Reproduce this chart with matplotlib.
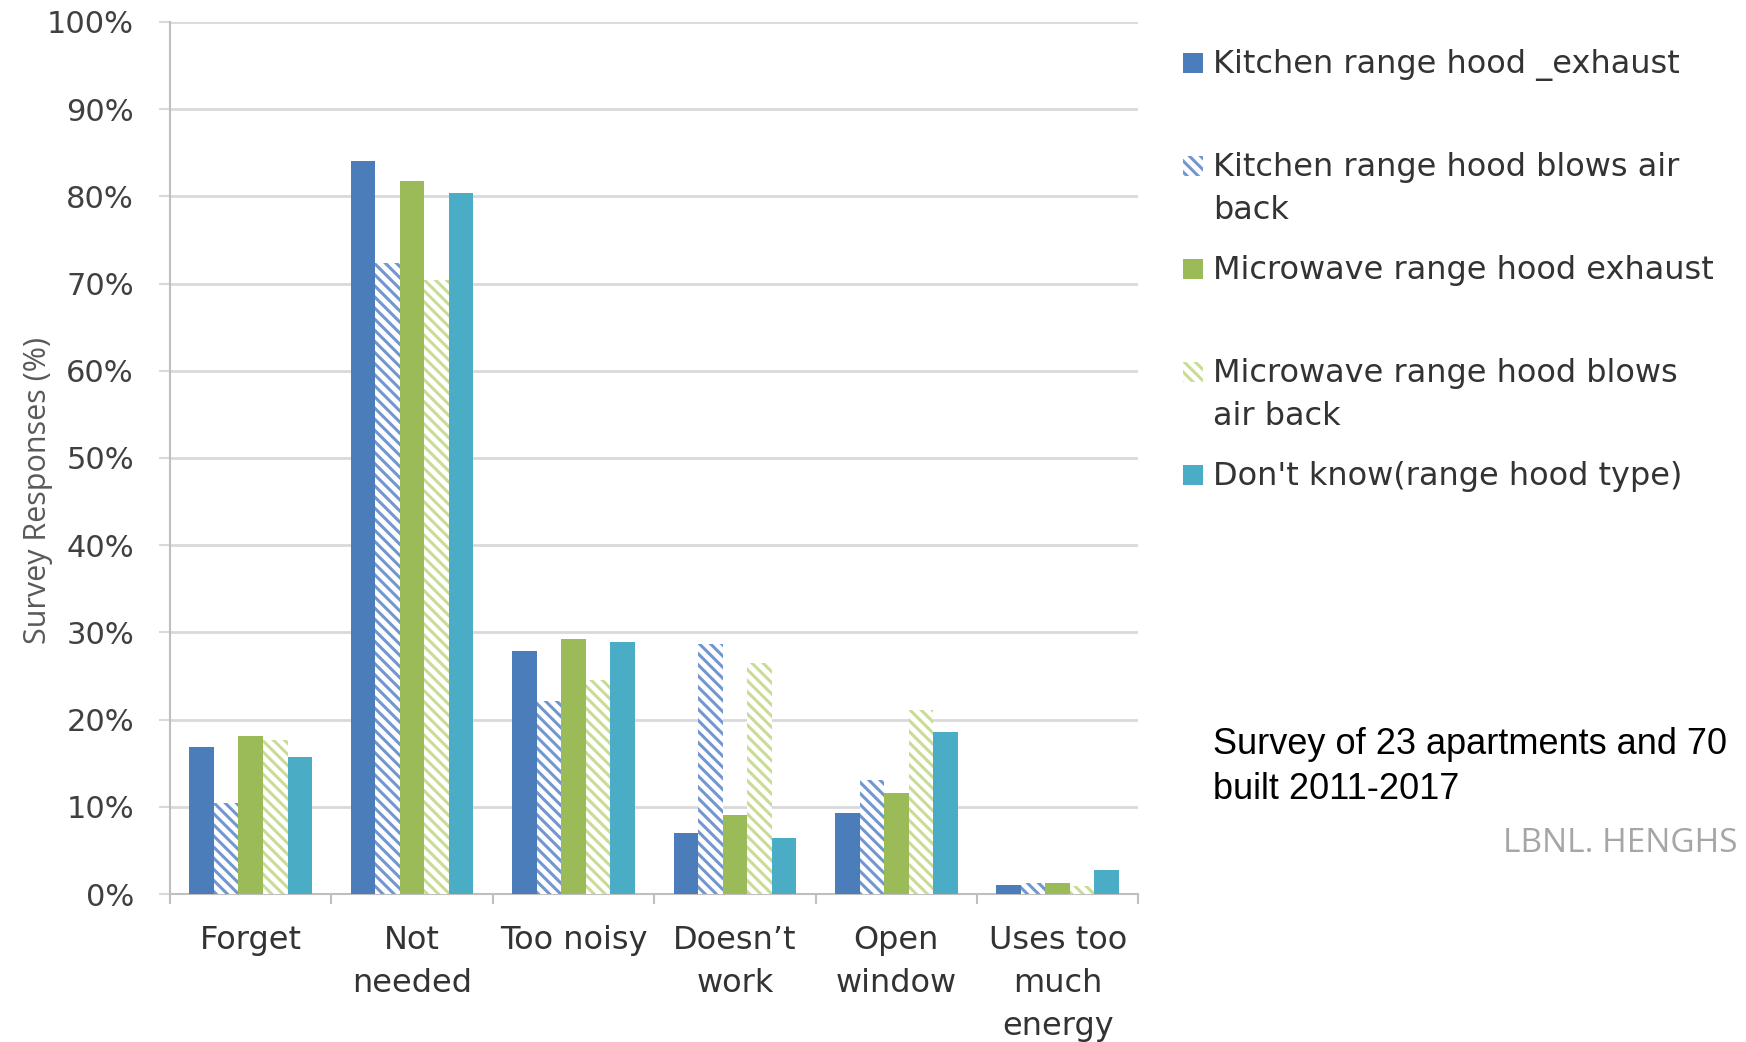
import numpy as np
import matplotlib
matplotlib.use("Agg")
import matplotlib.pyplot as plt
from matplotlib.patches import Rectangle

categories = ["Forget", "Not\nneeded", "Too noisy", "Doesn\u2019t\nwork", "Open\nwindow", "Uses too\nmuch\nenergy"]
series_names = [
    "Kitchen range hood _exhaust",
    "Kitchen range hood blows air\nback",
    "Microwave range hood exhaust",
    "Microwave range hood blows\nair back",
    "Don't know(range hood type)",
]
kitchen_exhaust = [16.9, 84.0, 27.9, 7.0, 9.3, 1.0]
kitchen_blows_back = [10.4, 72.4, 22.1, 28.7, 13.1, 1.3]
microwave_exhaust = [18.1, 81.7, 29.2, 9.1, 11.6, 1.3]
microwave_blows_back = [17.7, 70.4, 24.5, 26.5, 21.1, 0.9]
dont_know = [15.7, 80.4, 28.9, 6.4, 18.6, 2.8]
yticks = [0, 10, 20, 30, 40, 50, 60, 70, 80, 90, 100]
ytick_labels = [f"{t}%" for t in yticks]

series = [kitchen_exhaust, kitchen_blows_back, microwave_exhaust, microwave_blows_back, dont_know]
colors = ["#4A7DBA", "#7296D0", "#9BBB59", "#C9DC96", "#4BACC6"]
hatched = [False, True, False, True, False]

TEXT_FONT = "DejaVu Sans"
TEXT_COLOR = "#333333"

plt.rcParams["hatch.linewidth"] = 2.2
fig = plt.figure(figsize=(17.46, 10.42), dpi=100)
ax = fig.add_axes([0.0974, 0.142, 0.5546, 0.837])

x = np.arange(len(categories))
bw = 0.152
for i, (vals, c, h) in enumerate(zip(series, colors, hatched)):
    offs = (i - 2) * bw
    if h:
        ax.bar(x + offs, vals, bw, facecolor="white", edgecolor=c, linewidth=0,
               hatch="\\\\\\", zorder=3)
    else:
        ax.bar(x + offs, vals, bw, color=c, linewidth=0, zorder=3)

ax.set_xlim(-0.5, len(categories) - 0.5)
ax.set_ylim(0, 100)
ax.set_yticks(yticks)
ax.set_yticklabels(ytick_labels, fontfamily=TEXT_FONT, fontsize=22, color="#404040")
ax.yaxis.grid(True, color="#D9D9D9", linewidth=2, zorder=0)
ax.tick_params(axis="y", length=8, width=1.5, color="#D9D9D9", pad=18)

ax.set_xticks(x)
ax.set_xticklabels(categories, fontfamily=TEXT_FONT, fontsize=23, color=TEXT_COLOR,
                   linespacing=1.5, va="top")
ax.tick_params(axis="x", length=0, pad=22)
ax.set_xticks(np.arange(len(categories) + 1) - 0.5, minor=True)
ax.tick_params(axis="x", which="minor", length=7, width=1.5, color="#BFBFBF")

for s in ["top", "right"]:
    ax.spines[s].set_visible(False)
for s in ["left", "bottom"]:
    ax.spines[s].set_color("#BFBFBF")
    ax.spines[s].set_linewidth(1.5)

ax.set_ylabel("Survey Responses (%)", fontfamily="Open Sans", fontsize=22,
              color="#595959")
ax.yaxis.set_label_coords(-0.121, 0.463)

# Legend drawn as a column of swatches with fixed slot spacing
W, H = fig.get_size_inches() * fig.dpi
slot_top = 63
slot_step = 103
for i, (name, c, h) in enumerate(zip(series_names, colors, hatched)):
    yc = slot_top + i * slot_step
    sw = Rectangle((1183 / W, 1 - (yc + 10) / H), 20 / W, 20 / H,
                   transform=fig.transFigure,
                   facecolor="white" if h else c,
                   edgecolor=c, linewidth=0, hatch="\\\\\\" if h else None)
    fig.patches.append(sw)
    fig.text(1213 / W, 1 - (yc - 14) / H, name, fontfamily=TEXT_FONT, fontsize=23,
             color=TEXT_COLOR, va="top", ha="left", linespacing=1.5)

fig.text(1213 / W, 1 - 727 / H, "Survey of 23 apartments and 70\nbuilt 2011-2017",
         fontfamily="Liberation Sans", fontsize=26, color="black",
         va="top", ha="left", linespacing=1.36)
fig.text(1503 / W, 1 - 843 / H, "LBNL. HENGHS", fontfamily="Open Sans", fontsize=24,
         color="#A6A6A6", va="center", ha="left")

fig.savefig("out.png", dpi=100, facecolor="white")
